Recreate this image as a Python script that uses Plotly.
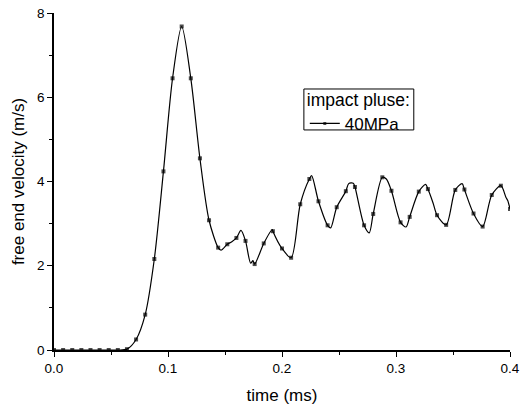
import plotly.graph_objects as go

# marker points (every 0.008 ms)
marker_time = [0.000, 0.008, 0.016, 0.024, 0.032, 0.040, 0.048, 0.056, 0.064, 0.072,
               0.080, 0.088, 0.096, 0.104, 0.112, 0.120, 0.128, 0.136, 0.144, 0.152,
               0.160, 0.168, 0.176, 0.184, 0.192, 0.200, 0.208, 0.216, 0.224, 0.232,
               0.240, 0.248, 0.256, 0.264, 0.272, 0.280, 0.288, 0.296, 0.304, 0.312,
               0.320, 0.328, 0.336, 0.344, 0.352, 0.360, 0.368, 0.376, 0.384, 0.392,
               0.400]
marker_velocity = [0.00, 0.00, 0.00, 0.00, 0.00, 0.00, 0.00, 0.00, 0.02, 0.25,
                   0.84, 2.16, 4.24, 6.45, 7.68, 6.45, 4.55, 3.08, 2.43, 2.51,
                   2.66, 2.59, 2.04, 2.53, 2.82, 2.41, 2.19, 3.46, 4.06, 3.53,
                   2.96, 3.39, 3.77, 3.87, 2.96, 3.23, 4.10, 3.78, 3.03, 3.16,
                   3.76, 3.82, 3.20, 2.97, 3.80, 3.81, 3.24, 2.93, 3.68, 3.90,
                   3.35]

# extra line-only detail points (extrema between markers)
extra_time = [0.1465, 0.156, 0.164, 0.1725, 0.1745, 0.1915, 0.226, 0.2427,
              0.2585, 0.2625, 0.2765, 0.2915, 0.3088, 0.326, 0.3325, 0.358,
              0.3965, 0.398]
extra_velocity = [2.37, 2.57, 2.84, 2.06, 2.12, 2.86, 4.14, 2.90,
                  3.95, 3.96, 2.78, 4.06, 2.92, 3.93, 3.49, 3.95,
                  3.62, 3.55]

legend_title = "impact pluse:"
series_name = "40MPa"

pts = sorted([(t, v, 4) for t, v in zip(marker_time, marker_velocity)] +
             [(t, v, 0) for t, v in zip(extra_time, extra_velocity)])
xs = [p[0] for p in pts]
ys = [p[1] for p in pts]
sz = [p[2] for p in pts]

fig = go.Figure()
fig.add_trace(go.Scatter(
    x=xs, y=ys, mode="lines+markers", name=series_name,
    line=dict(color="black", width=1.2, shape="spline", smoothing=0.8),
    marker=dict(symbol="square", size=sz, color="black", line=dict(width=0)),
))

# tight legend frame like the reference
fig.add_shape(type="rect", xref="paper", yref="paper",
              x0=0.548, x1=0.789, y0=0.653, y1=0.7745,
              line=dict(color="black", width=1), fillcolor="rgba(0,0,0,0)",
              layer="above")

font = "Liberation Sans, Arial, sans-serif"
fig.update_layout(
    width=521, height=412,
    margin=dict(l=54, r=11, t=13, b=62),
    plot_bgcolor="white", paper_bgcolor="white",
    font=dict(family=font, size=14, color="black"),
    showlegend=True,
    legend=dict(
        title=dict(text=legend_title, font=dict(size=17.5)),
        x=0.550, y=0.792, xanchor="left", yanchor="top",
        borderwidth=0, bgcolor="rgba(0,0,0,0)",
        font=dict(size=17), tracegroupgap=0, itemwidth=30,
    ),
    xaxis=dict(
        range=[0, 0.4], dtick=0.1, tick0=0, tickformat=".1f",
        showline=True, linecolor="black", linewidth=1.5, mirror=False,
        ticks="outside", ticklen=5, tickwidth=1.2, tickcolor="black",
        minor=dict(dtick=0.05, ticks="outside", ticklen=3, tickwidth=1.2, tickcolor="black"),
        showgrid=False, zeroline=False, automargin=False,
        title=dict(text="time (ms)", standoff=14, font=dict(size=17)),
        tickfont=dict(size=13.5),
    ),
    yaxis=dict(
        range=[0, 8], dtick=2, tick0=0,
        showline=True, linecolor="black", linewidth=1.5, mirror=False,
        ticks="outside", ticklen=5, tickwidth=1.2, tickcolor="black",
        minor=dict(dtick=1, ticks="outside", ticklen=3, tickwidth=1.2, tickcolor="black"),
        showgrid=False, zeroline=False, automargin=False,
        title=dict(text="free end velocity (m/s)", standoff=8, font=dict(size=17)),
        tickfont=dict(size=13.5),
    ),
)

fig.write_html("out.html", config={"displayModeBar": False},
               post_script="document.body.style.margin='0';")
